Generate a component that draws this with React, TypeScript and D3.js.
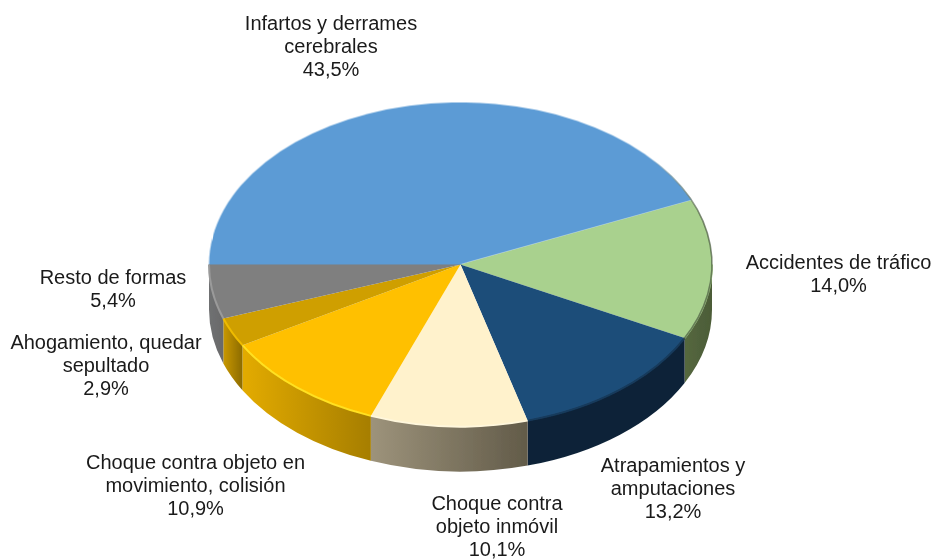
import React from "react";
import * as d3 from "d3";

const categories = ["Infartos y derrames cerebrales","Accidentes de tráfico","Atrapamientos y amputaciones","Choque contra objeto inmóvil","Choque contra objeto en movimiento, colisión","Ahogamiento, quedar sepultado","Resto de formas"];
const values = [43.5,14.0,13.2,10.1,10.9,2.9,5.4];
const topColors = ["#5b9bd5","#a9d18e","#1f4e79","#fff2cc","#ffc000","#cf9f00","#7f7f7f"];
const wallLeft = ["#41709b","#55683f","#0e2439","#9d937b","#e3ab00","#c99800","#6f7072"];
const wallRight = ["#41709b","#4c5c38","#0e2439","#625b49","#a67e00","#8c6b00","#6a6a6a"];
const rimColors = ["#5b9bd5","#a9d18e","#173a5c","#fff7dc","#ffe020","#eebb00","#9a9a9a"];
const labels = [
  {lines:["Infartos y derrames","cerebrales","43,5%"],x:331,y:30},
  {lines:["Accidentes de tráfico","14,0%"],x:838.5,y:268.5},
  {lines:["Atrapamientos y","amputaciones","13,2%"],x:673,y:471.5},
  {lines:["Choque contra","objeto inmóvil","10,1%"],x:497,y:509.5},
  {lines:["Choque contra objeto en","movimiento, colisión","10,9%"],x:195.5,y:469},
  {lines:["Ahogamiento, quedar","sepultado","2,9%"],x:106,y:349},
  {lines:["Resto de formas","5,4%"],x:113,y:284},
];

const W=936,H=559,cx=460.5,cy=264.5,rx=251.5,ry=162,depth=45;
const pie = d3.pie<number>().sort(null).startAngle(-Math.PI/2).endAngle(1.5*Math.PI);
const arcs = pie(values);
const unitArc = d3.arc<d3.PieArcDatum<number>>().innerRadius(0).outerRadius(1);
const px=(a:number)=>cx+rx*Math.sin(a);
const py=(a:number,d=0)=>cy-ry*Math.cos(a)+d;
const wallPath=(a0:number,a1:number)=>`M${px(a0)},${py(a0)}A${rx},${ry} 0 0 1 ${px(a1)},${py(a1)}L${px(a1)},${py(a1,depth)}A${rx},${ry} 0 0 0 ${px(a0)},${py(a0,depth)}Z`;
const rimPath=(a0:number,a1:number)=>`M${px(a0)},${py(a0)}A${rx},${ry} 0 0 1 ${px(a1)},${py(a1)}`;
// walls are visible between 3 o'clock and 9 o'clock
const lo=Math.PI/2, hi=1.5*Math.PI;
const range=(a:d3.PieArcDatum<number>)=>{
  if(a.startAngle<0) return [0,0];
  return [Math.max(a.startAngle,lo),Math.min(a.endAngle,hi)];
};

export default function App(){
  return (
    <svg width={W} height={H} viewBox={`0 0 ${W} ${H}`} style={{position:"absolute",left:0,top:0,background:"#fff"}}>
      <defs>
        <filter id="soft" x="-5%" y="-5%" width="110%" height="110%"><feGaussianBlur stdDeviation="0.6"/></filter>
        <linearGradient id="bevel" gradientUnits="userSpaceOnUse" x1={px(0.85)} y1={py(0.85)} x2={px(1.25)} y2={py(1.25)}>
          <stop offset="0" stopColor="#4a5a40" stopOpacity={0}/><stop offset="1" stopColor="#4a5a40" stopOpacity={0.7}/>
        </linearGradient>
        {arcs.map((a,i)=>{
          const [a0,a1]=range(a);
          if(a1<=a0) return null;
          return <linearGradient key={i} id={`w${i}`} gradientUnits="userSpaceOnUse" x1={px(a1)} x2={px(a0)} y1={0} y2={0}>
            <stop offset="0" stopColor={wallLeft[i]}/><stop offset="1" stopColor={wallRight[i]}/>
          </linearGradient>;
        })}
      </defs>
      <g filter="url(#soft)">
        {arcs.map((a,i)=>{
          const [a0,a1]=range(a);
          if(a1<=a0) return null;
          return <path key={i} d={wallPath(a0,a1)} fill={`url(#w${i})`}/>;
        })}
        {arcs.map((a,i)=>(
          <path key={i} d={unitArc(a) as string} transform={`translate(${cx},${cy}) scale(${rx},${ry})`} fill={topColors[i]}/>
        ))}
        {arcs.map((a,i)=>{
          const [a0,a1]=range(a);
          if(a1<=a0) return null;
          return <path key={i} d={rimPath(a0,a1)} fill="none" stroke={rimColors[i]} strokeWidth={2}/>;
        })}
        <path d={rimPath(0.85,2.05)} fill="none" stroke="url(#bevel)" strokeWidth={1.6}/>
      </g>
      <g fontFamily="'Liberation Sans', Arial, sans-serif" fontSize={20} fill="#1a1a1a" textAnchor="middle">
        {labels.map((l,i)=>(
          <text key={i} x={l.x} y={l.y}>
            {l.lines.map((t,j)=><tspan key={j} x={l.x} dy={j===0?0:23.2}>{t}</tspan>)}
          </text>
        ))}
      </g>
    </svg>
  );
}
